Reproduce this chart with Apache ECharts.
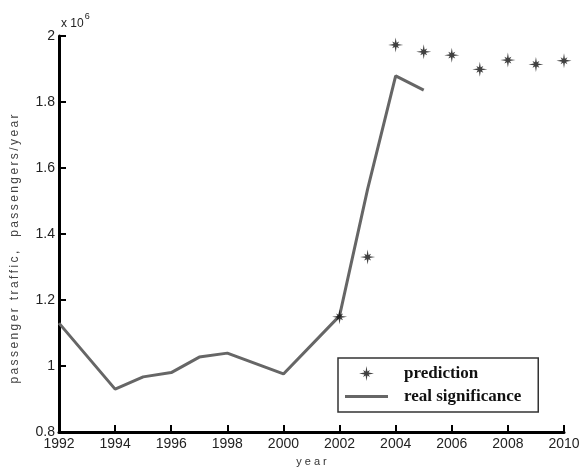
<!DOCTYPE html>
<html>
<head>
<meta charset="utf-8">
<script src="https://cdn.jsdelivr.net/npm/echarts@6/dist/echarts.min.js"></script>
<style>
html, body { margin: 0; padding: 0; background: #fff; }
#chart { width: 579px; height: 470px; }
</style>
</head>
<body>
<div id="chart"></div>
<script>
// real data (gray line)
var realYears = [1992, 1994, 1995, 1996, 1997, 1998, 2000, 2002, 2003, 2004, 2005];
var realValues = [1130000, 930000, 967000, 980000, 1027000, 1039000, 976000, 1152000, 1536000, 1879000, 1836000];

// predicted values (star markers)
var predYears = [2002, 2003, 2004, 2005, 2006, 2007, 2008, 2009, 2010];
var predValues = [1149000, 1330000, 1973000, 1952000, 1942000, 1899000, 1927000, 1914000, 1925000];

// 8-point asterisk, long straight arms, short diagonals
var starPath = 'path://M20,10 L12.8,8.8 L14.6,5.4 L11.2,7.2 L10,0 L8.8,7.2 L5.4,5.4 L7.2,8.8 L0,10 L7.2,11.2 L5.4,14.6 L8.8,12.8 L10,20 L11.2,12.8 L14.6,14.6 L12.8,11.2 Z';
var linePath = 'path://M0,0 L43,0 L43,3 L0,3 Z';

function pairs(xs, ys) {
    var out = [];
    for (var i = 0; i < xs.length; i++) out.push([xs[i], ys[i]]);
    return out;
}

function spaced(s) {
    return s.split('').join('\u2009');
}

var myChart = echarts.init(document.getElementById('chart'));

var option = {
    backgroundColor: '#fff',
    animation: false,
    grid: { left: 59, right: 15, top: 36, bottom: 38, outerBoundsMode: 'none' },
    graphic: [{
        type: 'text',
        left: 61,
        top: 12,
        style: {
            text: '{a|x 10}{b|6}',
            rich: {
                a: { fontFamily: 'Liberation Sans', fontSize: 12, fill: '#222', verticalAlign: 'bottom', lineHeight: 18 },
                b: { fontFamily: 'Liberation Sans', fontSize: 9, fill: '#222', verticalAlign: 'top', lineHeight: 18, padding: [0, 0, 8, 1] }
            }
        }
    }],
    xAxis: {
        type: 'value',
        min: 1992,
        max: 2010,
        interval: 2,
        name: 'y e a r',
        nameLocation: 'middle',
        nameGap: 24,
        nameTextStyle: { fontFamily: 'Liberation Sans', fontSize: 11, color: '#333' },
        axisLine: { lineStyle: { color: '#000', width: 3 } },
        axisTick: { inside: true, length: 7, lineStyle: { color: '#000', width: 2 } },
        axisLabel: { fontFamily: 'Liberation Sans', fontSize: 14, color: '#222', margin: 5,
            formatter: function (v) { return String(v); } },
        splitLine: { show: false }
    },
    yAxis: {
        type: 'value',
        min: 800000,
        max: 2000000,
        interval: 200000,
        name: spaced('passenger traffic,  passengers/year'),
        nameLocation: 'middle',
        nameGap: 38,
        nameTextStyle: { fontFamily: 'Liberation Sans', fontSize: 12, color: '#444', padding: [0, 0, 0, -30] },
        axisLine: { show: true, lineStyle: { color: '#000', width: 3 } },
        axisTick: { show: true, inside: true, length: 7, lineStyle: { color: '#000', width: 2 } },
        axisLabel: { fontFamily: 'Liberation Sans', fontSize: 14, color: '#222', margin: 4,
            formatter: function (v) { return String(Math.round(v / 100000) / 10); } },
        splitLine: { show: false }
    },
    legend: {
        orient: 'vertical',
        left: 338,
        top: 358,
        padding: [7, 17, 7, 7],
        itemGap: 6,
        itemWidth: 43,
        itemHeight: 15,
        borderColor: '#333',
        borderWidth: 1.5,
        borderRadius: 0,
        backgroundColor: '#fff',
        textStyle: { fontFamily: 'Liberation Serif', fontWeight: 'bold', fontSize: 17, color: '#111', padding: [0, 0, 0, 11] },
        data: [
            { name: 'prediction', icon: starPath },
            { name: 'real significance', icon: linePath, itemStyle: { color: '#666' } }
        ]
    },
    series: [
        {
            name: 'real significance',
            type: 'line',
            data: pairs(realYears, realValues),
            symbol: 'none',
            lineStyle: { color: '#666', width: 3 },
            itemStyle: { color: '#666' },
            z: 2
        },
        {
            name: 'prediction',
            type: 'scatter',
            data: pairs(predYears, predValues),
            symbol: starPath,
            symbolSize: 15,
            itemStyle: { color: '#111' },
            z: 3
        }
    ]
};

myChart.setOption(option);
</script>
</body>
</html>
